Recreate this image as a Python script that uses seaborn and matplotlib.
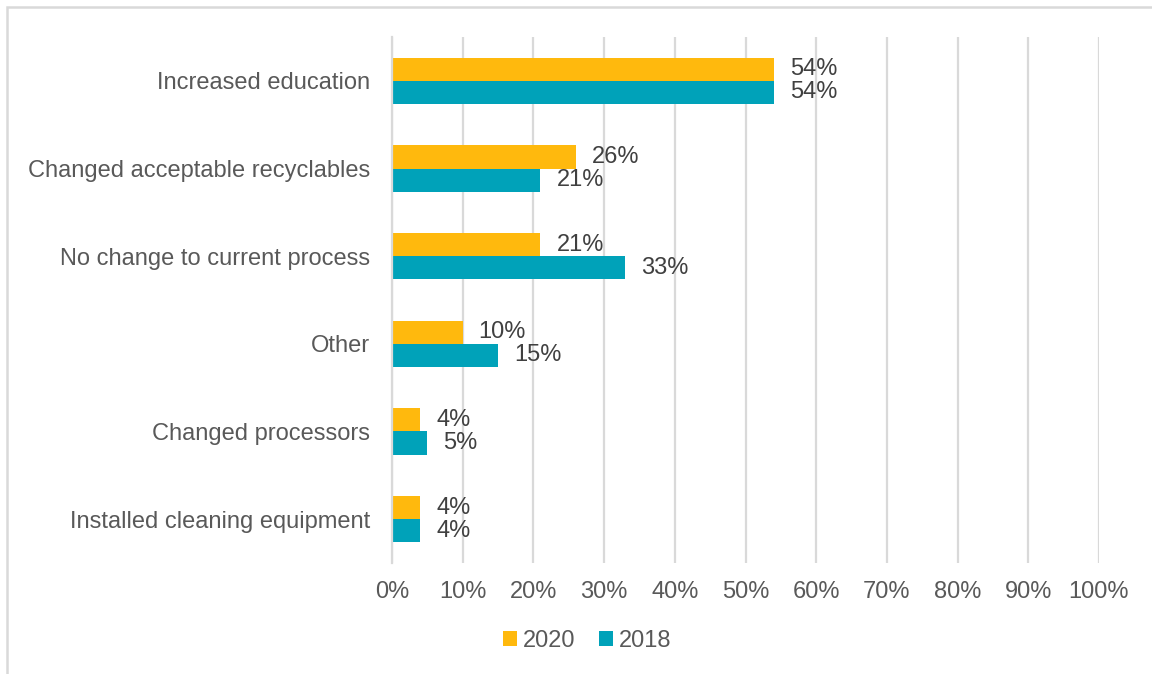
import matplotlib
matplotlib.use("Agg")
import matplotlib.pyplot as plt
from matplotlib.patches import Rectangle
import seaborn as sns
import pandas as pd

# Survey responses: changes made to recycling programs
categories = [
    "Increased education",
    "Changed acceptable recyclables",
    "No change to current process",
    "Other",
    "Changed processors",
    "Installed cleaning equipment",
]
years = ["2020", "2018"]
values_2020 = [54, 26, 21, 10, 4, 4]
values_2018 = [54, 21, 33, 15, 5, 4]
x_ticks = list(range(0, 101, 10))

df = pd.DataFrame({
    "category": categories * 2,
    "year": [years[0]] * len(categories) + [years[1]] * len(categories),
    "share": values_2020 + values_2018,
})

sns.set_theme(style="white")
plt.rcParams["font.family"] = ["Liberation Sans", "DejaVu Sans"]

palette = {"2020": "#FFB90D", "2018": "#00A2B9"}
text_grey = "#595959"
grid_grey = "#D9D9D9"
fs = 17

fig = plt.figure(figsize=(11.52, 6.74), dpi=100)
ax = fig.add_axes([392 / 1152, 1 - 563 / 674, (1099 - 392) / 1152, (563 - 37) / 674])

sns.barplot(
    data=df, y="category", x="share", hue="year",
    order=categories, hue_order=years, palette=palette,
    orient="h", width=0.525, saturation=1, ax=ax, legend=True,
    linewidth=0,
)

for container in ax.containers:
    ax.bar_label(container, labels=[f"{v:.0f}%" for v in container.datavalues],
                 padding=11.5, fontsize=fs, color="#404040")

ax.set_xlim(0, 100)
ax.set_xticks(x_ticks)
ax.set_xticklabels([f"{t}%" for t in x_ticks])
ax.set_xlabel("")
ax.set_ylabel("")
ax.tick_params(axis="x", length=0, pad=13, labelsize=fs, labelcolor=text_grey)
ax.tick_params(axis="y", length=0, pad=15.5, labelsize=fs, labelcolor=text_grey)

ax.grid(axis="x", color=grid_grey, linewidth=1.6)
ax.grid(axis="y", visible=False)
ax.set_axisbelow(True)
for side in ["top", "right", "bottom"]:
    ax.spines[side].set_visible(False)
ax.spines["left"].set_color(grid_grey)
ax.spines["left"].set_linewidth(1.6)

handles, labels = ax.get_legend_handles_labels()
ax.legend_.remove()
fig.legend(handles, labels, loc="center", bbox_to_anchor=(587 / 1152, 1 - 641 / 674),
           ncol=2, frameon=False, fontsize=fs, labelcolor=text_grey,
           handlelength=0.6, handleheight=0.6, handletextpad=0.25, columnspacing=1.0)

# Chart frame
fig.patches.append(Rectangle((7 / 1152, -0.5), 1.5, 1.5 - 7 / 674,
                             transform=fig.transFigure, fill=False,
                             edgecolor=grid_grey, linewidth=1.8))

fig.savefig("out.png", dpi=100)
